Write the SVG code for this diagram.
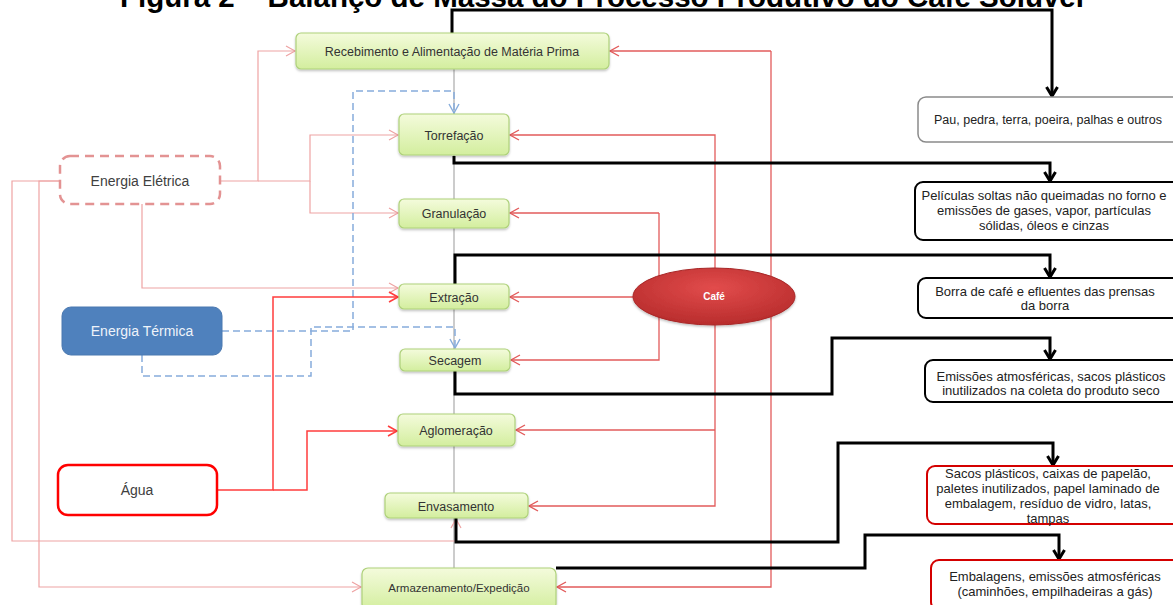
<svg xmlns="http://www.w3.org/2000/svg" width="1173" height="605" viewBox="0 0 1173 605">
<style>
text{font-family:"Liberation Sans",Arial,sans-serif}
.title{font-size:29.5px;font-weight:bold;fill:#000}
.proc{fill:url(#gGreen);stroke:#aed17a;stroke-width:1.2}
.plab{font-size:12.5px;fill:#333;text-anchor:middle}
.out{fill:#fff;stroke:#000;stroke-width:2}
.outr{fill:#fff;stroke:#d40000;stroke-width:2}
.olab{font-size:13px;fill:#222;text-anchor:middle}
.pe{fill:none;stroke:#eea3a3;stroke-width:1.2;marker-end:url(#aPink)}
.pb{fill:none;stroke:#86acdb;stroke-width:1.5;stroke-dasharray:7,4;marker-end:url(#aBlue)}
.pa{fill:none;stroke:#ff3d3d;stroke-width:1.5;marker-end:url(#aRedB)}
.pc{fill:none;stroke:#e25b5b;stroke-width:1.3;marker-end:url(#aRed)}
.pk{fill:none;stroke:#000;stroke-width:3;marker-end:url(#aBlack)}
.flow{fill:none;stroke:#999;stroke-width:1}
</style>
<defs>
<linearGradient id="gGreen" x1="0" y1="0" x2="0" y2="1">
<stop offset="0" stop-color="#f4fbdc"/>
<stop offset="1" stop-color="#d3ee9e"/>
</linearGradient>
<radialGradient id="gCafe" cx="0.5" cy="0.35" r="0.7">
<stop offset="0" stop-color="#e24c4c"/>
<stop offset="1" stop-color="#b52a2a"/>
</radialGradient>
<filter id="sh" x="-10%" y="-20%" width="120%" height="150%">
<feDropShadow dx="0" dy="1.5" stdDeviation="1.2" flood-color="#000" flood-opacity="0.25"/>
</filter>
<marker id="aPink" markerUnits="userSpaceOnUse" markerWidth="12" markerHeight="12" refX="10" refY="6" orient="auto"><path d="M1,1 L10,6 L1,11" fill="none" stroke="#eea3a3" stroke-width="1.2"/></marker>
<marker id="aBlue" markerUnits="userSpaceOnUse" markerWidth="12" markerHeight="12" refX="10" refY="6" orient="auto"><path d="M1,1 L10,6 L1,11" fill="none" stroke="#86acdb" stroke-width="1.4"/></marker>
<marker id="aRed" markerUnits="userSpaceOnUse" markerWidth="12" markerHeight="12" refX="10" refY="6" orient="auto"><path d="M1,1 L10,6 L1,11" fill="none" stroke="#e25b5b" stroke-width="1.4"/></marker>
<marker id="aRedB" markerUnits="userSpaceOnUse" markerWidth="12" markerHeight="12" refX="10" refY="6" orient="auto"><path d="M1,1 L10,6 L1,11" fill="none" stroke="#ff3d3d" stroke-width="1.6"/></marker>
<marker id="aBlack" markerUnits="userSpaceOnUse" markerWidth="14" markerHeight="14" refX="11" refY="7" orient="auto"><path d="M2,1.5 L11,7 L2,12.5" fill="none" stroke="#000" stroke-width="3"/></marker>
</defs>
<rect width="1173" height="605" fill="#fff"/>
<text class="title" x="602" y="7" text-anchor="middle">Figura 2 – Balanço de Massa do Processo Produtivo do Café Solúvel</text>

<g id="connectors">
<path class="flow" d="M454,69 V568"/>
<path class="pe" d="M220,181 H258 V51 H295"/>
<path class="pe" d="M258,181 H310 V135 H398"/>
<path class="pe" d="M310,181 V213 H398"/>
<path class="pe" d="M142,204 V288 H398"/>
<path class="pe" d="M60,181 H12 V541 H456 V519"/>
<path class="pe" d="M60,181 H39 V587 H361"/>
<path class="pb" d="M222,331 H353 V91 H454 V113"/>
<path class="pb" d="M142,355 V376 H311 V327 H455 V348"/>
<path class="pa" d="M217,490 H273 V297 H398"/>
<path class="pa" d="M273,490 H307 V431 H397"/>
<path class="pc" d="M715,268 V135 H510"/>
<path class="pc" d="M659,213 H510"/>
<path class="pc" d="M659,213 V360 H511"/>
<path class="pc" d="M633,297 H510"/>
<path class="pc" d="M715,325 V506 H529"/>
<path class="pc" d="M715,430 H516"/>
<path class="pc" d="M771,51 H610"/>
<path class="pc" d="M771,51 V587 H557"/>
<path class="pk" d="M452,33 V10 H1052 V96"/>
<path class="pk" d="M454,156 V163 H1050 V181"/>
<path class="pk" d="M455,284 V255 H1050 V277"/>
<path class="pk" d="M455,371 V394 H832 V338 H1050 V359"/>
<path class="pk" d="M456,518 V542 H838 V443 H1053 V465"/>
<path class="pk" d="M556,568 H865 V535 H1059 V559"/>
</g>

<g id="recebimento"><rect class="proc" filter="url(#sh)" x="296" y="33" width="313" height="36" rx="5"/><text class="plab" x="452" y="55.5">Recebimento e Alimentação de Matéria Prima</text></g>
<g id="torrefacao"><rect class="proc" filter="url(#sh)" x="399" y="114" width="110" height="41" rx="5"/><text class="plab" x="454" y="139.5">Torrefação</text></g>
<g id="granulacao"><rect class="proc" filter="url(#sh)" x="399" y="199" width="110" height="29" rx="5"/><text class="plab" x="454" y="217.5">Granulação</text></g>
<g id="extracao"><rect class="proc" filter="url(#sh)" x="399" y="284" width="110" height="25" rx="5"/><text class="plab" x="454" y="301.5">Extração</text></g>
<g id="secagem"><rect class="proc" filter="url(#sh)" x="400" y="349" width="110" height="22" rx="5"/><text class="plab" x="455" y="364.5">Secagem</text></g>
<g id="aglomeracao"><rect class="proc" filter="url(#sh)" x="398" y="414" width="117" height="32" rx="5"/><text class="plab" x="456" y="434.5">Aglomeração</text></g>
<g id="envasamento"><rect class="proc" filter="url(#sh)" x="385" y="493" width="143" height="25" rx="5"/><text class="plab" x="456" y="510.5">Envasamento</text></g>
<g id="armazenamento"><rect class="proc" filter="url(#sh)" x="362" y="568" width="194" height="42" rx="6"/><text class="plab" x="459" y="592" style="font-size:11.5px">Armazenamento/Expedição</text></g>

<g id="energia-eletrica"><rect x="60" y="156" width="160" height="48" rx="10" fill="#fff" stroke="#e39393" stroke-width="2.5" stroke-dasharray="9,6"/><text x="140" y="186" text-anchor="middle" style="font-size:14px;fill:#404040">Energia Elétrica</text></g>
<g id="energia-termica"><rect x="62" y="307" width="160" height="48" rx="9" fill="#4f81bd" stroke="#4a78b0" stroke-width="1"/><text x="142" y="336" text-anchor="middle" style="font-size:14px;fill:#eef3fa">Energia Térmica</text></g>
<g id="agua"><rect x="58" y="465" width="159" height="50" rx="10" fill="#fff" stroke="#ff0000" stroke-width="2.5"/><text x="137" y="495" text-anchor="middle" style="font-size:14px;fill:#404040">Água</text></g>
<g id="cafe"><ellipse cx="714" cy="296.5" rx="81" ry="28.5" fill="url(#gCafe)" stroke="#a82828" stroke-width="1" filter="url(#sh)"/><text x="714" y="300" text-anchor="middle" style="font-size:10px;font-weight:bold;fill:#fff">Café</text></g>

<g id="out-1"><rect x="918" y="97" width="262" height="45" rx="8" fill="#fff" stroke="#8a8a8a" stroke-width="1.5"/><text class="olab" x="1048" y="124" style="font-size:12.5px">Pau, pedra, terra, poeira, palhas  e outros</text></g>
<g id="out-2"><rect class="out" x="915" y="182" width="265" height="58" rx="8"/><text class="olab" x="1044" y="200">Películas soltas não queimadas no forno e</text><text class="olab" x="1044" y="215">emissões de gases, vapor, partículas</text><text class="olab" x="1044" y="230">sólidas, óleos e cinzas</text></g>
<g id="out-3"><rect class="out" x="918" y="278" width="262" height="40" rx="8"/><text class="olab" x="1045" y="296">Borra de café e efluentes das prensas</text><text class="olab" x="1045" y="310">da borra</text></g>
<g id="out-4"><rect class="out" x="925" y="360" width="255" height="42" rx="8"/><text class="olab" x="1051" y="381">Emissões atmosféricas, sacos plásticos</text><text class="olab" x="1051" y="395">inutilizados na coleta do produto seco</text></g>
<g id="out-5"><rect class="outr" x="927" y="466" width="253" height="58" rx="8"/><text class="olab" x="1048" y="478">Sacos plásticos, caixas de papelão,</text><text class="olab" x="1048" y="493">paletes inutilizados, papel laminado de</text><text class="olab" x="1048" y="508">embalagem, resíduo de vidro, latas,</text><text class="olab" x="1048" y="523">tampas</text></g>
<g id="out-6"><rect class="outr" x="931" y="560" width="249" height="50" rx="8"/><text class="olab" x="1055" y="581">Embalagens, emissões atmosféricas</text><text class="olab" x="1055" y="596">(caminhões, empilhadeiras a gás)</text></g>
</svg>
